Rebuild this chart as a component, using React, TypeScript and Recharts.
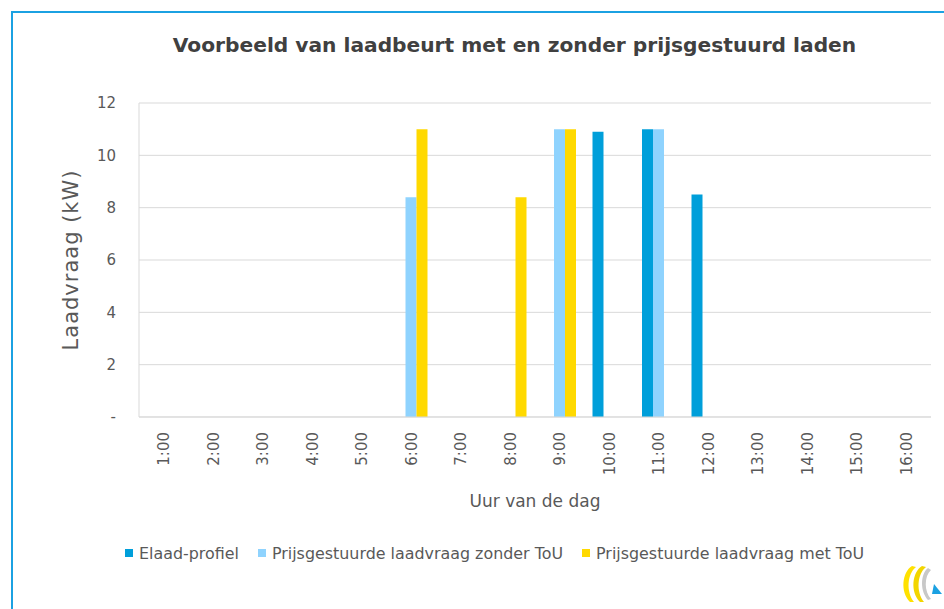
import React from 'react';
import { BarChart, Bar, XAxis, YAxis, CartesianGrid, Legend, Label } from 'recharts';

const hours = ['1:00', '2:00', '3:00', '4:00', '5:00', '6:00', '7:00', '8:00', '9:00', '10:00', '11:00', '12:00', '13:00', '14:00', '15:00', '16:00'];
const elaadProfiel = [0, 0, 0, 0, 0, 0, 0, 0, 0, 10.9, 11, 8.5, 0, 0, 0, 0];
const zonderToU = [0, 0, 0, 0, 0, 8.4, 0, 0, 11, 0, 11, 0, 0, 0, 0, 0];
const metToU = [0, 0, 0, 0, 0, 11, 0, 8.4, 11, 0, 0, 0, 0, 0, 0, 0];
const yTicks = [0, 2, 4, 6, 8, 10, 12];
const seriesNames = ['Elaad-profiel', 'Prijsgestuurde laadvraag zonder ToU', 'Prijsgestuurde laadvraag met ToU'];
const seriesColors = ['#009FDA', '#8FD3FE', '#FFD900'];
const titleText = 'Voorbeeld van laadbeurt met en zonder prijsgestuurd laden';
const xTitle = 'Uur van de dag';
const yTitle = 'Laadvraag (kW)';

const data = hours.map((h, i) => ({ hour: h, elaad: elaadProfiel[i], zonder: zonderToU[i], met: metToU[i] }));

const FONT = '"DejaVu Sans", sans-serif';
const TEXT = '#595959';
const GRID = '#d9d9d9';

const HourTick = (props: any) => {
  const { x, y, payload } = props;
  return (
    <text x={x} y={y} transform={`rotate(-90, ${x}, ${y})`} textAnchor="end" dy="0.36em" fill={TEXT} fontSize={15} fontFamily={FONT}>
      {payload.value}
    </text>
  );
};

const LegendContent = (props: any) => {
  const payload = [...(props.payload || [])].sort(
    (a: any, b: any) => seriesNames.indexOf(a.value) - seriesNames.indexOf(b.value)
  );
  return (
    <div style={{ display: 'flex', alignItems: 'center', fontFamily: FONT, fontSize: 15.9, color: TEXT, whiteSpace: 'nowrap', height: 20 }}>
      {payload.map((p: any, i: number) => (
        <span key={i} style={{ display: 'inline-flex', alignItems: 'center', marginRight: 19 }}>
          <span style={{ width: 8, height: 8, background: p.color, display: 'inline-block', marginRight: 6 }} />
          {p.value}
        </span>
      ))}
    </div>
  );
};

const YTitle = (props: any) => {
  const vb = props.viewBox || { x: 0, y: 0, width: 0, height: 0 };
  const cx = vb.x + 58;
  const cy = vb.y + vb.height / 2;
  return (
    <text x={cx} y={cy} transform={`rotate(-90, ${cx}, ${cy})`} textAnchor="middle" dy="0.36em" fill={TEXT} fontSize={21} letterSpacing={1} fontFamily={FONT}>
      {yTitle}
    </text>
  );
};

const Logo = () => (
  <svg width={46} height={44} style={{ position: 'absolute', left: 898, top: 562 }} viewBox="0 0 46 44">
    <path d="M14 4 C4 10 2 30 12 40 L16 40 C8 30 9 12 18 5 Z" fill="#FFE100" />
    <path d="M24 4 C14 10 12 30 22 40 L26 40 C18 30 19 12 28 5 Z" fill="#F2D500" />
    <path d="M30 6 C22 12 22 30 30 38 L33 37 C26 30 26 14 33 8 Z" fill="#c8c8c8" />
    <path d="M36 22 L44 32 L34 32 Z" fill="#1BA1E2" />
  </svg>
);

export default function App() {
  return (
    <div style={{ position: 'absolute', left: 0, top: 0, width: 944, height: 609, overflow: 'hidden', background: '#fff' }}>
      <div style={{ position: 'absolute', left: 11, top: 11, width: 960, height: 640, borderLeft: '2px solid #1BA1E2', borderTop: '2px solid #1BA1E2' }} />
      <div style={{ position: 'absolute', left: 0, top: 33, width: 1029, textAlign: 'center', fontFamily: FONT, fontWeight: 'bold', fontSize: 20.2, color: '#404040', whiteSpace: 'nowrap' }}>
        {titleText}
      </div>
      <div style={{ position: 'absolute', left: 0, top: 0 }}>
        <BarChart width={944} height={609} data={data} margin={{ top: 103, right: 13, left: 12, bottom: 77 }} barSize={11} barGap={0}>
          <CartesianGrid horizontal={true} vertical={false} stroke={GRID} strokeWidth={1} />
          <XAxis dataKey="hour" height={95} tickLine={false} tickSize={0} tickMargin={15} axisLine={{ stroke: GRID }} tick={<HourTick />} interval={0}>
            <Label value={xTitle} position="insideBottom" offset={5} fill={TEXT} fontSize={17} fontFamily={FONT} />
          </XAxis>
          <YAxis width={127} domain={[0, 12]} ticks={yTicks} tickLine={false} tickSize={0} tickMargin={23} axisLine={{ stroke: GRID }} tickFormatter={(v: number) => (v === 0 ? '-' : String(v))} tick={{ fill: TEXT, fontSize: 15, fontFamily: FONT }}>
            <Label content={<YTitle />} />
          </YAxis>
          <YAxis yAxisId="right" orientation="right" width={0} domain={[0, 12]} type="number" tick={false} tickLine={false} axisLine={{ stroke: GRID }} />
          <Legend verticalAlign="bottom" itemSorter={null as any} content={<LegendContent />} wrapperStyle={{ left: 125, top: 543, bottom: 'auto', width: 800, height: 20 }} />
          <Bar dataKey="elaad" name={seriesNames[0]} fill={seriesColors[0]} isAnimationActive={false} />
          <Bar dataKey="zonder" name={seriesNames[1]} fill={seriesColors[1]} isAnimationActive={false} />
          <Bar dataKey="met" name={seriesNames[2]} fill={seriesColors[2]} isAnimationActive={false} />
        </BarChart>
      </div>
      <Logo />
    </div>
  );
}
